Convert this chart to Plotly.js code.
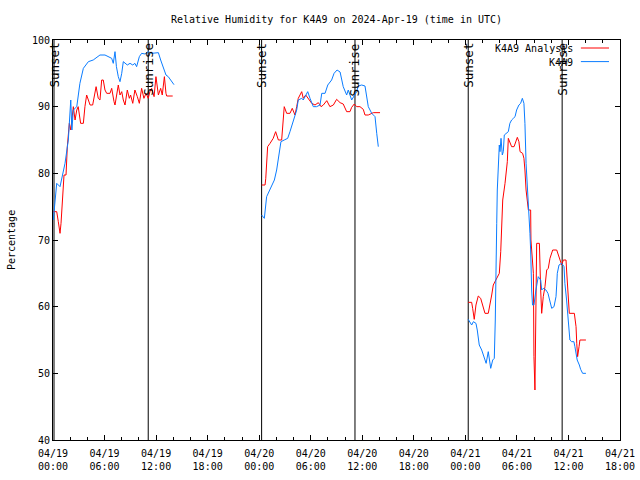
<!DOCTYPE html>
<html>
<head>
<meta charset="utf-8">
<script src="https://cdn.plot.ly/plotly-3.0.1.min.js"></script>
<style>html,body{margin:0;padding:0;background:#fff}#chart{width:640px;height:480px}</style>
</head>
<body>
<div id="chart"></div>
<script>
// Hours since 2024-04-19 00:00 UTC, and relative humidity (%)
const analysisHours1 = [0.03,0.43,0.62,0.81,0.93,1.13,1.2,1.28,1.51,1.66,1.9,2.06,2.36,2.56,2.76,2.94,3.22,3.53,3.72,3.92,4.11,4.31,4.62,4.81,5.01,5.27,5.47,5.67,5.85,6.05,6.25,6.63,6.83,7.1,7.22,7.6,7.8,8.0,8.18,8.38,8.65,8.88,9.04,9.28,9.54,9.81,10.05,10.32,10.59,10.83,11.09,11.29,11.49,11.76,11.99,12.26,12.54,12.72,12.96,13.15,13.23,13.93];
const analysisRH1 = [74.25,74.25,72.75,71,72.5,77,78,79.75,79.75,84,87.5,86.5,90,88,89.5,90,87.5,87.5,90,91.75,91,90.25,90.25,92,93,91.25,91,94,94,92.5,92,92,92.75,90.75,90.25,93.25,91.75,92.25,91,90.25,92.5,91.25,91.75,90.5,92.5,91.5,90.5,92.75,91.25,92,91.25,92.25,92.75,91.5,94.5,91.75,92.75,91.75,94.5,92,91.6,91.6];
const analysisHours2 = [24.29,24.68,24.76,24.87,24.99,25.26,25.64,25.92,26.23,26.62,26.81,26.92,27.2,27.59,27.85,28.17,28.37,28.55,28.95,29.14,29.41,29.72,30.11,30.5,30.88,31.2,31.46,31.86,32.24,32.63,33.02,33.41,33.79,34.19,34.57,34.77,35.07,35.35,35.73,36.12,36.32,36.7,37.1,37.28,38.06];
const analysisRH2 = [78.25,78.25,79.25,82,84,84.5,85.25,86.25,85,85,87.75,90,89,89,89.75,88.75,90,91.25,92.25,91.25,91.75,91.25,90.5,90.25,90.6,90,90.25,90.9,90,90.25,91.1,90.6,90.4,89.25,89.25,89.9,90.4,90,90,89.6,88.75,88.75,89,89.1,89.1];
const analysisHours3 = [48.34,48.74,48.85,49.04,49.24,49.5,49.78,50.02,50.28,50.67,50.87,51.07,51.25,51.57,51.95,52.11,52.23,52.35,52.61,52.73,52.88,53.0,53.19,53.39,53.66,53.86,54.05,54.24,54.36,54.67,54.82,54.94,55.06,55.33,55.6,55.64,55.91,55.99,56.1,56.3,56.61,56.77,56.88,57.07,57.27,57.47,57.65,57.85,58.17,58.63,58.82,59.01,59.21,59.4,59.71,59.79,59.98,60.1,60.68,60.88,60.96,61.07,61.23,61.34,62.04];
const analysisRH3 = [60.65,60.65,59.75,58.1,60.25,61.6,61.25,60,59,59,60.25,61.75,63.25,64,65,68.25,72.5,76,78.5,80.5,81.75,85.25,84.75,84,84,84.75,85.4,84.75,83.25,83,82.25,80.5,77.5,74.5,74.5,70,65,52.5,47.5,69.5,69.5,62.5,59,61.5,63,65.5,65.75,67.25,68.5,68.5,67.75,66.75,66.25,67,67,65.5,61.5,59,59,57,54.5,52.5,54,55,55];

const obsHours1 = [0.03,0.43,0.81,1.2,1.4,1.78,2.06,2.2,2.36,2.76,3.14,3.53,4.11,4.69,5.47,6.05,6.44,6.83,7.02,7.22,7.39,7.6,7.8,8.0,8.18,8.38,8.65,8.96,9.28,9.54,9.74,10.05,10.32,10.71,11.09,11.49,11.87,12.26,12.54,12.84,13.15,13.42,13.7,13.93,14.08];
const obsRH1 = [73,78.5,78,80,81.5,85,91,86.5,89.5,90,93.5,95.75,96.75,97,97.75,97.75,97.5,97.25,96.5,98.25,96,94.5,93.75,95,96.75,96.5,96.25,96.5,96.25,96.5,96,97.5,98,97.9,98.25,98,98.1,98.1,97,96,94.75,94.5,94,93.5,93.3];
const obsHours2 = [24.29,24.6,24.87,25.14,25.46,25.76,26.04,26.31,26.54,26.92,27.32,27.59,27.85,28.09,28.37,28.55,28.95,29.14,29.41,29.65,29.92,30.3,30.69,31.08,31.28,31.66,31.98,32.44,32.71,33.06,33.41,33.6,33.79,34.19,34.37,34.77,35.07,35.35,35.54,35.93,36.32,36.7,37.1,37.48,37.68,37.87];
const obsRH2 = [73.75,73.25,76.5,77.25,78,79,80.5,83,84.75,85,85.25,86.25,87.25,88.25,89.5,91,91.25,91,91.75,92.25,91.25,90,90,90.25,92,92,93.25,94,95,95.5,95.2,94,93,91.75,92.5,91,91.75,92.25,93.1,93.25,93.1,90,89,88.5,86,84];
const obsHours3 = [48.34,48.54,48.74,48.93,49.24,49.39,49.62,49.9,50.17,50.41,50.67,50.95,51.18,51.37,51.49,51.57,51.65,51.72,51.83,51.95,52.03,52.15,52.3,52.42,52.53,52.81,53.0,53.19,53.39,53.58,53.78,53.97,54.24,54.44,54.63,54.82,54.94,55.06,55.26,55.33,55.52,55.6,55.64,55.72,55.81,55.99,56.22,56.49,56.77,56.88,57.07,57.39,57.62,57.85,58.05,58.32,58.55,58.63,58.7,58.9,59.21,59.48,59.59,59.79,59.98,60.17,60.37,60.64,60.75,60.87,61.02,61.26,61.42,61.65,62.04];
const obsRH3 = [58.1,57.75,57.25,57.75,57.5,56.5,54.25,53.5,52.25,51.5,53.25,50.75,52,52.25,58,63,72.5,77.5,81,84.25,83.25,85.25,82.75,83.25,85.75,86,86.25,87.5,88,88.25,88.5,89.5,90.25,90.5,91.25,90.5,87.5,81.5,77.5,75.25,71,68.5,63.5,62.5,60.25,60.25,62.5,64.5,64,62.5,62.75,62.5,62,61,59.75,60,61.5,63.25,65,66.25,66.5,66,63.5,61,58,55,54.75,54.75,54,53.25,52,51.25,50.6,50,50];

const sunEventHours = [0.12, 11.08, 24.29, 35.15, 48.34, 59.27];
const sunEventLabels = ["Sunset", "Sunrise", "Sunset", "Sunrise", "Sunset", "Sunrise"];
const seriesNames = ["K4A9 Analysis", "K4A9"];
const seriesColors = ["#ff0000", "#0a7cff"];

function toDate(h) {
  const ms = Date.UTC(2024, 3, 19) + Math.round(h * 60) * 60000;
  return new Date(ms).toISOString().slice(0, 19).replace('T', ' ');
}
function joinSegments(hourSegs, valSegs) {
  const x = [], y = [];
  hourSegs.forEach((hs, i) => {
    if (i > 0) { x.push(toDate((hourSegs[i-1][hourSegs[i-1].length-1] + hs[0]) / 2)); y.push(null); }
    hs.forEach((h, j) => { x.push(toDate(h)); y.push(valSegs[i][j]); });
  });
  return {x, y};
}
const a = joinSegments([analysisHours1, analysisHours2, analysisHours3], [analysisRH1, analysisRH2, analysisRH3]);
const o = joinSegments([obsHours1, obsHours2, obsHours3], [obsRH1, obsRH2, obsRH3]);

const FONT = "DejaVu Sans Mono";
const traces = [
  {x: a.x, y: a.y, type: 'scatter', mode: 'lines', name: seriesNames[0], line: {color: seriesColors[0], width: 1}, connectgaps: false},
  {x: o.x, y: o.y, type: 'scatter', mode: 'lines', name: seriesNames[1], line: {color: seriesColors[1], width: 1}, connectgaps: false}
];

const shapes = sunEventHours.map(h => ({
  type: 'line', xref: 'x', yref: 'paper', x0: toDate(h), x1: toDate(h), y0: 0, y1: 1,
  line: {color: '#000', width: 1}, layer: 'below'
}));
const annotations = sunEventHours.map((h, i) => ({
  x: toDate(h), xref: 'x', y: 1, yref: 'paper', yanchor: 'top', xanchor: 'center',
  text: sunEventLabels[i], textangle: -90, showarrow: false, yshift: -1, xshift: 0,
  font: {family: FONT, size: 12.5, color: '#000'}
}));
// gnuplot-style legend: text then line sample
const legY = [0.978, 0.944];
seriesNames.forEach((n, i) => {
  annotations.push({x: 0.9206, xref: 'paper', y: legY[i], yref: 'paper', xanchor: 'right', yanchor: 'middle',
    text: n, showarrow: false, font: {family: FONT, size: 10, color: '#000'}});
  shapes.push({type: 'line', xref: 'paper', yref: 'paper', x0: 0.931, x1: 0.9806, y0: legY[i] + 0.002, y1: legY[i] + 0.002,
    line: {color: seriesColors[i], width: 1}});
});
annotations.push({x: -0.074, xref: 'paper', y: 0.5, yref: 'paper', xanchor: 'center', yanchor: 'middle',
  text: 'Percentage', textangle: -90, showarrow: false, font: {family: FONT, size: 10, color: '#000'}});

const layout = {
  width: 640, height: 480,
  margin: {l: 53, r: 20, t: 40, b: 40},
  paper_bgcolor: '#fff', plot_bgcolor: '#fff',
  font: {family: FONT, size: 10, color: '#000'},
  showlegend: false,
  title: {text: 'Relative Humidity for K4A9 on 2024-Apr-19 (time in UTC)', x: 0.5, xref: 'paper', xanchor: 'center',
          y: 1 - 19/480, yref: 'container', yanchor: 'middle', font: {family: FONT, size: 10, color: '#000'}},
  xaxis: {
    type: 'date', range: ['2024-04-19 00:00', '2024-04-21 18:00'],
    tick0: '2024-04-19 00:00', dtick: 6*3600000, tickformat: '%m/%d<br>%H:%M',
    ticks: 'inside', ticklen: 5, tickcolor: '#000', mirror: 'allticks', ticklabelstandoff: 4,
    showline: true, linecolor: '#000', linewidth: 1, showgrid: false, zeroline: false,
    minor: {dtick: 2*3600000, ticks: 'inside', ticklen: 3, tickcolor: '#000', showgrid: false},
    tickfont: {family: FONT, size: 10, color: '#000'}, fixedrange: true
  },
  yaxis: {
    range: [40, 100], dtick: 10, tick0: 40,
    ticks: 'inside', ticklen: 5, tickcolor: '#000', mirror: 'allticks',
    showline: true, linecolor: '#000', linewidth: 1, showgrid: false, zeroline: false,
    tickfont: {family: FONT, size: 10, color: '#000'}, fixedrange: true
  },
  shapes: shapes,
  annotations: annotations
};
Plotly.newPlot('chart', traces, layout, {staticPlot: true, displayModeBar: false});
</script>
</body>
</html>
